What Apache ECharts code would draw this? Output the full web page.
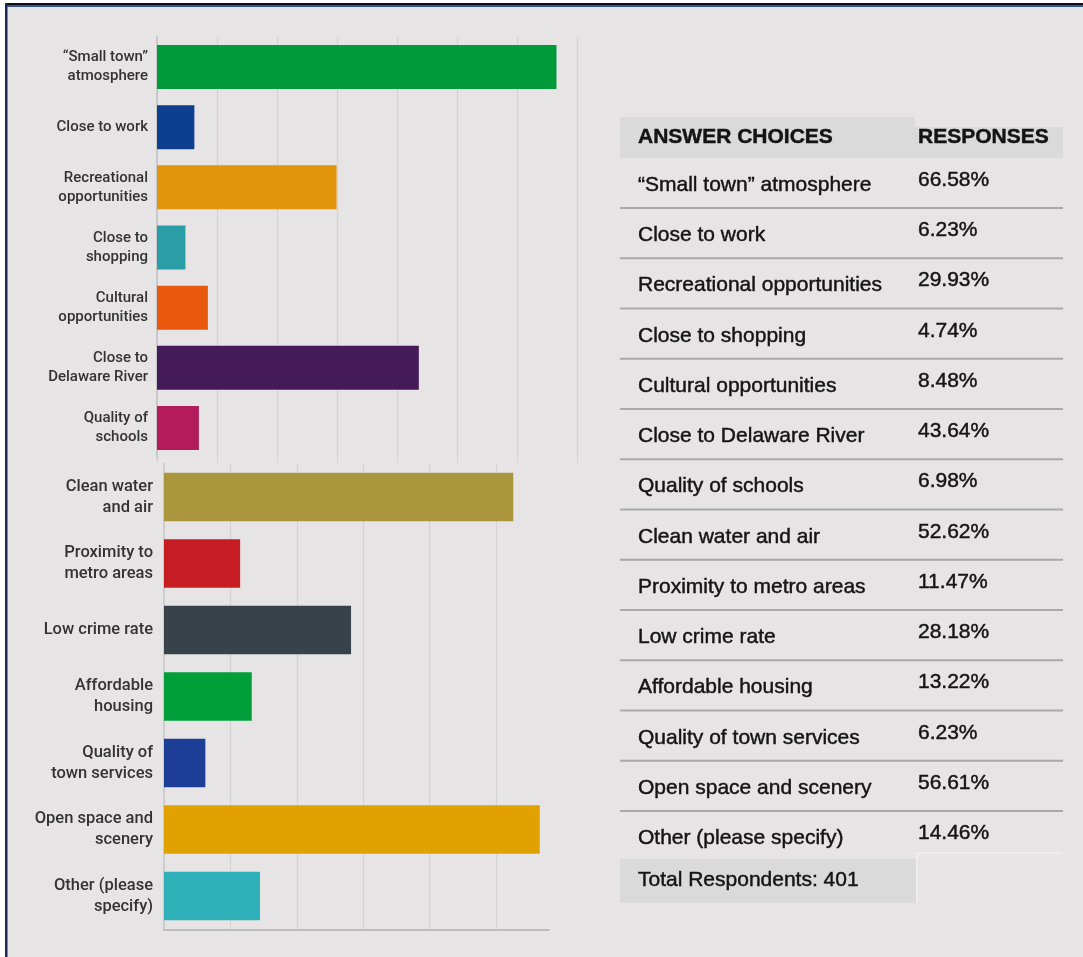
<!DOCTYPE html>
<html>
<head>
<meta charset="utf-8">
<script src="https://cdn.jsdelivr.net/npm/echarts@6/dist/echarts.min.js"></script>
<style>
  html, body { margin: 0; padding: 0; background: #e6e4e4; }
  #chart { width: 1083px; height: 957px; }
</style>
</head>
<body>
<div id="chart"></div>
<script>
// Survey answers, first half of the bar chart
const topCategories = [
  '“Small town”\natmosphere',
  'Close to work',
  'Recreational\nopportunities',
  'Close to\nshopping',
  'Cultural\nopportunities',
  'Close to\nDelaware River',
  'Quality of\nschools'
];
const topValues = [66.58, 6.23, 29.93, 4.74, 8.48, 43.64, 6.98];

// Survey answers, second half of the bar chart
const bottomCategories = [
  'Clean water\nand air',
  'Proximity to\nmetro areas',
  'Low crime rate',
  'Affordable\nhousing',
  'Quality of\ntown services',
  'Open space and\nscenery',
  'Other (please\nspecify)'
];
const bottomValues = [52.62, 11.47, 28.18, 13.22, 6.23, 56.61, 14.46];

// Table wording for each answer, in the same order as the bars
const answerChoices = [
  '“Small town” atmosphere',
  'Close to work',
  'Recreational opportunities',
  'Close to shopping',
  'Cultural opportunities',
  'Close to Delaware River',
  'Quality of schools',
  'Clean water and air',
  'Proximity to metro areas',
  'Low crime rate',
  'Affordable housing',
  'Quality of town services',
  'Open space and scenery',
  'Other (please specify)'
];
const tableHeaders = ['ANSWER CHOICES', 'RESPONSES'];
const totalRespondents = 401;

// Bar palette
const topColors = ['#019a3a', '#0e3f8e', '#e0950c', '#2b9da6', '#e8580e', '#451a58', '#b31b5b'];
const bottomColors = ['#a9963d', '#c81c25', '#37424a', '#009f3a', '#1c3e96', '#e1a100', '#2fb0b9'];

const chart = echarts.init(document.getElementById('chart'), null, { renderer: 'canvas' });

const labelFont = 'Roboto, "Noto Sans", sans-serif';
const tableFont = '"Liberation Sans", Arial, sans-serif';
const ink = '#141414';

// Table built from the answer list and the bar values
const responses = topValues.concat(bottomValues).map(v => v.toFixed(2) + '%');
const tableLeft = 620, tableRight = 1063, colX = 915;
const firstRule = 208, rowStep = 50.25;
const graphics = [];

function cellText(x, y, text, weight) {
  return {
    type: 'text', x: x, y: y, z: 2,
    style: {
      text: text, font: (weight || 'normal') + ' 21px ' + tableFont,
      fill: ink, stroke: ink, lineWidth: 0.45,
      verticalAlign: 'middle', align: 'left'
    }
  };
}

graphics.push({ type: 'rect', shape: { x: tableLeft, y: 117, width: colX - tableLeft, height: 41 }, style: { fill: '#dbdada' }, z: 1 });
graphics.push({ type: 'rect', shape: { x: colX, y: 127, width: tableRight - colX, height: 31 }, style: { fill: '#dbdada' }, z: 1 });
graphics.push(cellText(638, 137, tableHeaders[0], 'bold'));
graphics.push(cellText(918, 137, tableHeaders[1], 'bold'));

answerChoices.forEach((name, i) => {
  const rule = firstRule + rowStep * i;
  graphics.push(cellText(638, rule - 23, name));
  graphics.push(cellText(918, rule - 28, responses[i]));
  if (i < answerChoices.length - 1) {
    graphics.push({ type: 'line', shape: { x1: tableLeft, y1: rule, x2: tableRight, y2: rule }, style: { stroke: '#a9a9a9', lineWidth: 2 }, z: 2 });
  }
});

// Footer row
graphics.push({ type: 'rect', shape: { x: tableLeft, y: 859, width: 296, height: 44 }, style: { fill: '#dbdada' }, z: 1 });
graphics.push({ type: 'line', shape: { x1: 917, y1: 853, x2: 1062, y2: 853 }, style: { stroke: '#f1f0f0', lineWidth: 1.5 }, z: 1 });
graphics.push({ type: 'line', shape: { x1: 917, y1: 853, x2: 917, y2: 903 }, style: { stroke: '#f1f0f0', lineWidth: 1.5 }, z: 1 });
graphics.push(cellText(638, 880, 'Total Respondents: ' + totalRespondents));

// Frame
graphics.push({ type: 'rect', shape: { x: 0, y: 0, width: 1083, height: 3 }, style: { fill: '#ffffff' }, z: 5 });
graphics.push({ type: 'rect', shape: { x: 0, y: 0, width: 5, height: 957 }, style: { fill: '#ffffff' }, z: 5 });
graphics.push({ type: 'rect', shape: { x: 5, y: 3, width: 1078, height: 2 }, style: { fill: '#111111' }, z: 5 });
graphics.push({ type: 'rect', shape: { x: 5, y: 5, width: 1078, height: 2 }, style: { fill: '#3a568f' }, z: 5 });
graphics.push({ type: 'rect', shape: { x: 5, y: 3, width: 2.5, height: 954 }, style: { fill: '#1b2a50' }, z: 5 });

const option = {
  backgroundColor: '#e6e4e4',
  animation: false,
  grid: [
    { left: 157, top: 37, width: 420, height: 421 },
    { left: 164, top: 463.75, width: 385, height: 465.5 }
  ],
  xAxis: [
    {
      gridIndex: 0, type: 'value', min: 0, max: 70, interval: 10,
      axisLine: { show: false },
      axisTick: { show: true, length: 5, lineStyle: { color: '#d3d3d3' } },
      axisLabel: { show: false },
      splitLine: { show: true, showMinLine: false, lineStyle: { color: '#d3d3d3', width: 1.2 } }
    },
    {
      gridIndex: 1, type: 'value', min: 0, max: 58, interval: 10,
      axisLine: { show: true, lineStyle: { color: '#bdbdbd', width: 2 } },
      axisTick: { show: false },
      axisLabel: { show: false },
      splitLine: { show: true, showMinLine: false, showMaxLine: false, lineStyle: { color: '#d3d3d3', width: 1.2 } }
    }
  ],
  yAxis: [
    {
      gridIndex: 0, type: 'category', inverse: true, data: topCategories,
      axisLine: { show: true, lineStyle: { color: '#bfbfbf', width: 1.5 } },
      axisTick: { show: false },
      axisLabel: { margin: 9, fontFamily: labelFont, fontSize: 15, fontWeight: 500, lineHeight: 19, color: '#333333', align: 'right' }
    },
    {
      gridIndex: 1, type: 'category', inverse: true, data: bottomCategories,
      axisLine: { show: true, lineStyle: { color: '#c4c4c4', width: 1.5 } },
      axisTick: { show: false },
      axisLabel: { margin: 11, fontFamily: labelFont, fontSize: 16.5, fontWeight: 500, lineHeight: 21, color: '#333333', align: 'right' }
    }
  ],
  series: [
    {
      type: 'bar', xAxisIndex: 0, yAxisIndex: 0, barWidth: 44,
      data: topValues.map((v, i) => ({ value: v, itemStyle: { color: topColors[i] } }))
    },
    {
      type: 'bar', xAxisIndex: 1, yAxisIndex: 1, barWidth: 48.5,
      data: bottomValues.map((v, i) => ({ value: v, itemStyle: { color: bottomColors[i] } }))
    }
  ],
  graphic: graphics
};

chart.setOption(option);
</script>
</body>
</html>
